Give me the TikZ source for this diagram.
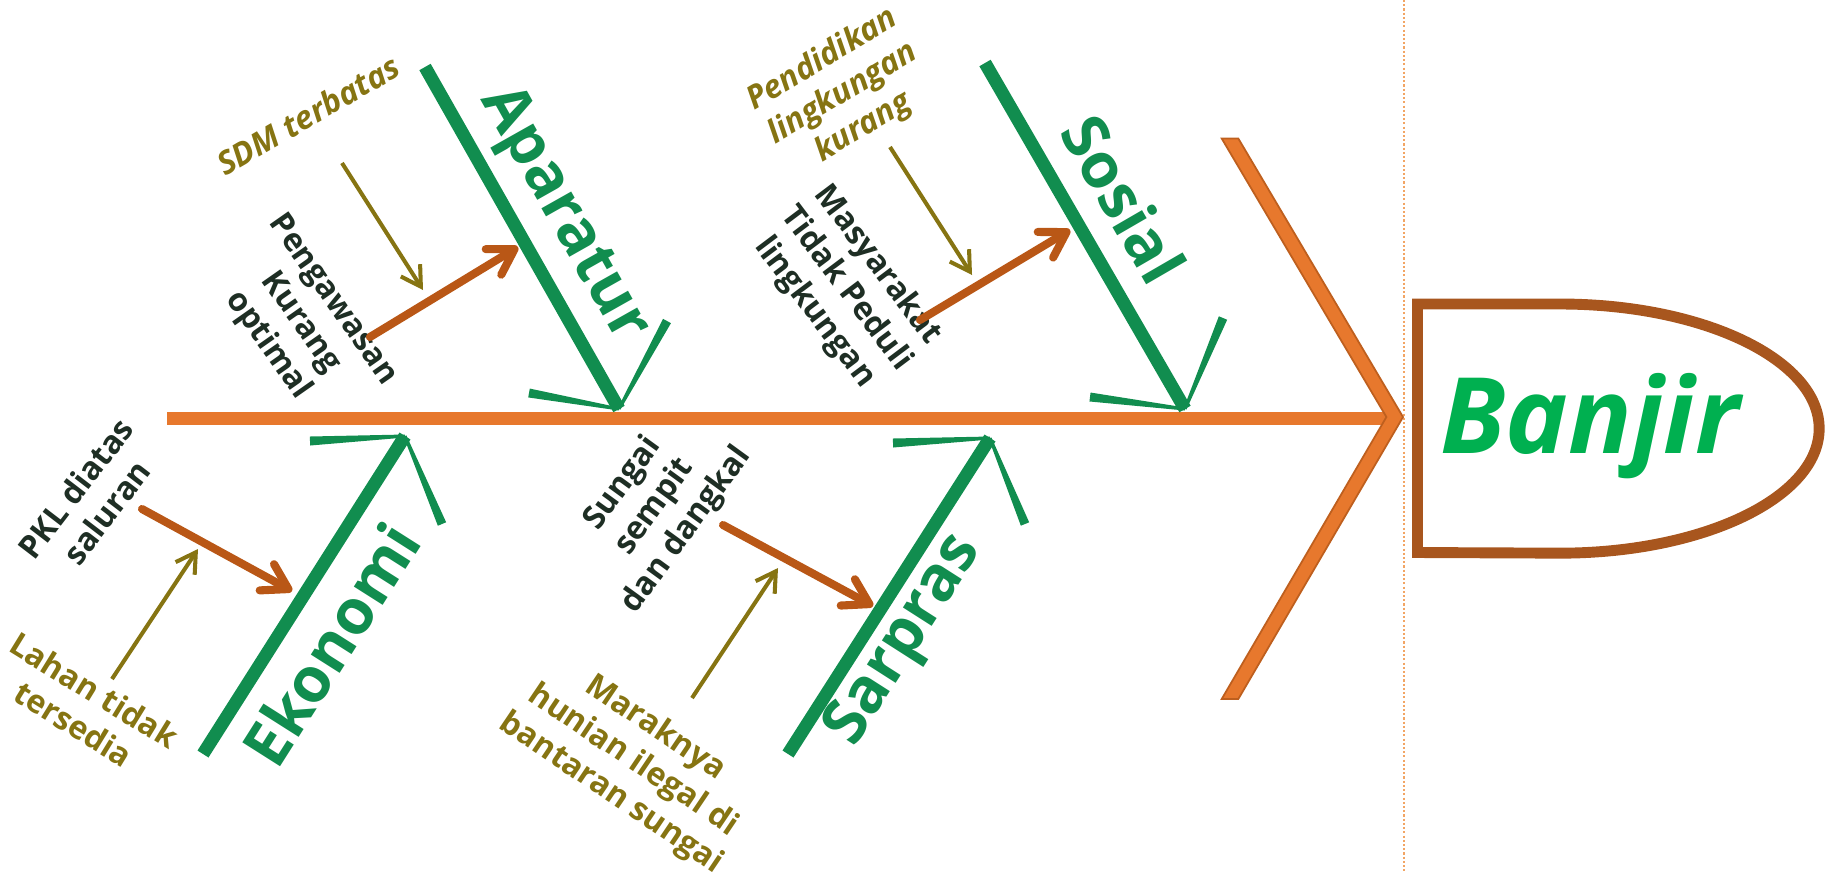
\documentclass[tikz,border=0pt]{standalone}
\usepackage{fontspec}
\setmainfont{Open Sans}
\usetikzlibrary{calc,arrows.meta}

\definecolor{bonegreen}{RGB}{17,141,79}
\definecolor{spineorange}{RGB}{231,120,45}
\definecolor{headedge}{RGB}{190,95,30}
\definecolor{boxbrown}{RGB}{168,86,30}
\definecolor{banjirgreen}{RGB}{0,176,80}
\definecolor{causebrown}{RGB}{185,87,22}
\definecolor{olivetext}{RGB}{134,116,18}
\definecolor{darktext}{RGB}{30,46,36}
\definecolor{guideorange}{RGB}{242,165,100}

% tapered side stroke of a bone's arrowhead: #1 outer end, #2 tip
\newcommand{\bonewing}[2]{%
  \fill[bonegreen] ($(#1)!0.045cm!90:(#2)$) -- ($(#1)!0.045cm!-90:(#2)$)
    -- ($(#2)!0.015cm!90:(#1)$) -- ($(#2)!0.015cm!-90:(#1)$) -- cycle;}

\begin{document}
\begin{tikzpicture}[x=0.01cm,y=-0.01cm,
  bone/.style={draw=bonegreen, line width=3.7pt},
  spine/.style={draw=spineorange, line width=3.6pt},
  bonelabel/.style={text=bonegreen, font=\bfseries\fontsize{17.8}{20}\selectfont, inner sep=0pt},
  causelabel/.style={text=darktext, font=\bfseries\fontsize{9.1}{11.2}\selectfont, align=center, inner sep=0pt},
  rootlabel/.style={text=olivetext, font=\bfseries\fontsize{9.1}{11.2}\selectfont, align=center, inner sep=0pt},
  rootlabelit/.style={text=olivetext, font=\bfseries\itshape\fontsize{9.1}{11.2}\selectfont, align=center, inner sep=0pt},
  causearrow/.style={draw=causebrown, line width=2.3pt, line cap=round, -{Straight Barb[length=7pt,width=8.5pt,round]}},
  rootarrow/.style={draw=olivetext, line width=1.15pt, -{Straight Barb[length=5.5pt,width=6.5pt]}},
]
\useasboundingbox (0,0) rectangle (1825,872);

% dotted guide line in front of the head
\draw[guideorange, line width=0.6pt, dash pattern=on 0.6pt off 0.6pt] (1404,0) -- (1404,872);

% main spine
\coordinate (tail) at (167,418.5);
\coordinate (head) at (1394,418.5);
\draw[spine] (tail) -- (head);

% chevron at the head of the spine
\filldraw[fill=spineorange, draw=headedge, line width=0.5pt]
  (1221.7,138.5) -- (1238.3,138.5) -- (1403,417) -- (1238.3,699)
  -- (1221.7,699) -- (1386.4,417) -- cycle;

% effect box
\draw[boxbrown, line width=3.1pt] (1417.5,304) -- (1560,304)
  arc[start angle=90, end angle=-90, x radius=2.59cm, y radius=1.245cm]
  -- (1417.5,552.5) -- cycle;
\node[text=banjirgreen, font=\bfseries\itshape\fontsize{30}{33}\selectfont,
      inner sep=0pt, anchor=base] (banjir) at (1590,453) {Banjir};

% bones
\coordinate (apTop) at (425,67);   \coordinate (apTip) at (619,409);
\coordinate (apL) at (529,393);    \coordinate (apR) at (667,321);
\coordinate (soTop) at (985,63);   \coordinate (soTip) at (1185,409);
\coordinate (soL) at (1090,397);   \coordinate (soR) at (1223,318);
\coordinate (ekBot) at (203,754);  \coordinate (ekTip) at (405,436);
\coordinate (ekL) at (310,441);    \coordinate (ekR) at (442,524);
\coordinate (saBot) at (788,754);  \coordinate (saTip) at (990,438);
\coordinate (saL) at (893,443);    \coordinate (saR) at (1025,524);

\draw[bone] (apTop) -- (apTip);
\draw[bone] (soTop) -- (soTip);
\draw[bone] (ekBot) -- (ekTip);
\draw[bone] (saBot) -- (saTip);
\bonewing{apL}{apTip} \bonewing{apR}{apTip}
\bonewing{soL}{soTip} \bonewing{soR}{soTip}
\bonewing{ekL}{ekTip} \bonewing{ekR}{ekTip}
\bonewing{saL}{saTip} \bonewing{saR}{saTip}

% bone labels
\node[bonelabel, rotate=-60.6] (aparatur) at (563,215) {Aparatur};
\node[bonelabel, rotate=-59.9] (sosial) at (1124,199) {Sosial};
\node[bonelabel, rotate=57.6] (ekonomi) at (331,644) {Ekonomi};
\node[bonelabel, rotate=57.4] (sarpras) at (905,641) {Sarpras};

% causes
\node[causelabel, rotate=-55] (pengawasan) at (300,323) {Pengawasan\\Kurang\\optimal};
\node[causelabel, rotate=-53] (masyarakat) at (846,289) {Masyarakat\\Tidak Peduli\\lingkungan};
\node[causelabel, rotate=52.5] (pkl) at (91,500) {PKL diatas\\saluran};
\node[causelabel, rotate=54] (sungai) at (655,507) {Sungai\\sempit\\dan dangkal};

% root causes
\node[rootlabelit, rotate=30] (sdm) at (308,115) {SDM terbatas};
\node[rootlabelit, rotate=31] (pendidikan) at (843,94) {Pendidikan\\lingkungan\\kurang};
\node[rootlabel, rotate=-31.6] (lahan) at (84,707) {Lahan tidak\\tersedia};
\node[rootlabel, rotate=-34] (maraknya) at (633,761) {Maraknya\\hunian ilegal di\\bantaran sungai};

% cause arrows onto the bones
\coordinate (pengS) at (370,337);  \coordinate (pengE) at (518,247);
\coordinate (masyS) at (920,320);  \coordinate (masyE) at (1070,230);
\coordinate (pklS) at (142,509);   \coordinate (pklE) at (292,591);
\coordinate (sungS) at (723,525);  \coordinate (sungE) at (873,606);
\draw[causearrow] (pengS) -- (pengE);
\draw[causearrow] (masyS) -- (masyE);
\draw[causearrow] (pklS) -- (pklE);
\draw[causearrow] (sungS) -- (sungE);

% root-cause arrows onto the cause arrows
\coordinate (sdmS) at (342,163);   \coordinate (sdmE) at (423,290);
\coordinate (pendS) at (890,147);  \coordinate (pendE) at (972,275);
\coordinate (lahS) at (112,679);   \coordinate (lahE) at (198,549);
\coordinate (marS) at (692,698);   \coordinate (marE) at (778,568);
\draw[rootarrow] (sdmS) -- (sdmE);
\draw[rootarrow] (pendS) -- (pendE);
\draw[rootarrow] (lahS) -- (lahE);
\draw[rootarrow] (marS) -- (marE);
\end{tikzpicture}
\end{document}
